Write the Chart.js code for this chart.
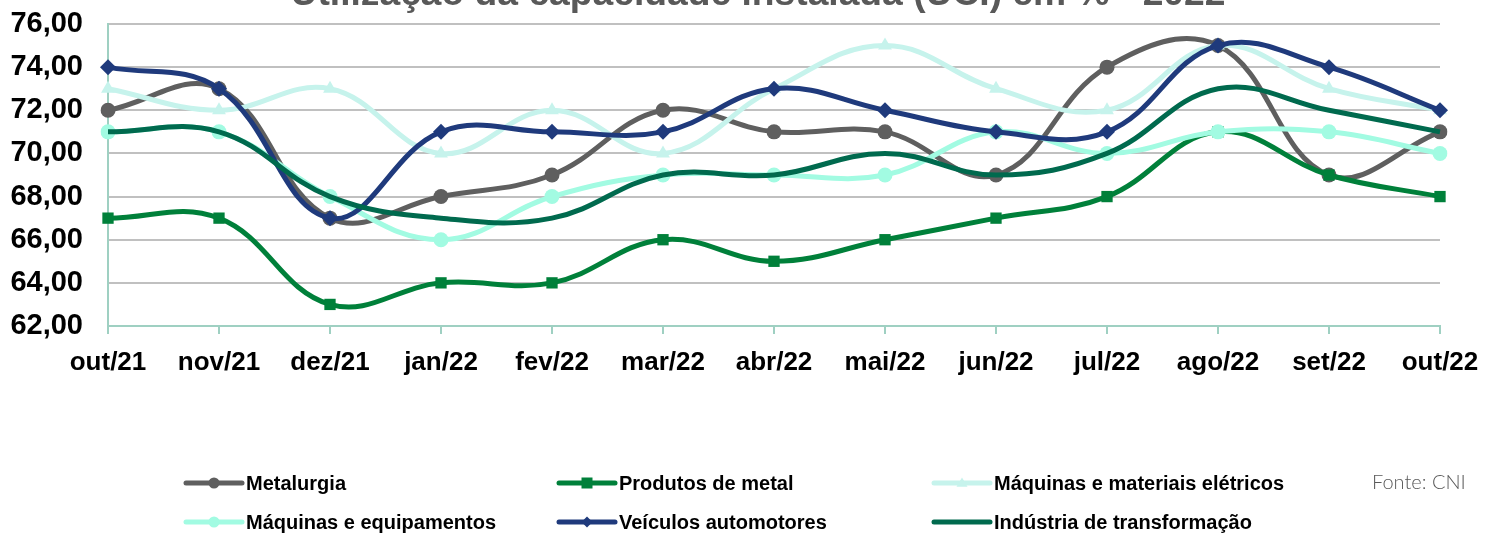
<!DOCTYPE html>
<html>
<head>
<meta charset="utf-8">
<script src="https://cdn.jsdelivr.net/npm/chart.js@4.4.1/dist/chart.umd.min.js"></script>
<style>
  html, body { margin: 0; padding: 0; background: #fff; }
  #wrap { width: 1500px; height: 536px; position: relative; }
</style>
</head>
<body>
<div id="wrap"><canvas id="uciChart" width="1500" height="536"></canvas></div>
<script>
const months = ['out/21', 'nov/21', 'dez/21', 'jan/22', 'fev/22', 'mar/22', 'abr/22', 'mai/22', 'jun/22', 'jul/22', 'ago/22', 'set/22', 'out/22'];

const metalurgia = [72, 73, 67, 68, 69, 72, 71, 71, 69, 74, 75, 69, 71];
const produtosMetal = [67, 67, 63, 64, 64, 66, 65, 66, 67, 68, 71, 69, 68];
const maqEletricos = [73, 72, 73, 70, 72, 70, 73, 75, 73, 72, 75, 73, 72];
const maqEquipamentos = [71, 71, 68, 66, 68, 69, 69, 69, 71, 70, 71, 71, 70];
const veiculos = [74, 73, 67, 71, 71, 71, 73, 72, 71, 71, 75, 74, 72];
const industria = [71, 71, 68, 67, 67, 69, 69, 70, 69, 70, 73, 72, 71];

const yTicks = [62, 64, 66, 68, 70, 72, 74, 76];

const chartTitle = 'Utilização da capacidade instalada (UCI) em % - 2022';
const sourceNote = 'Fonte: CNI';

const series = [
  { label: 'Metalurgia', data: metalurgia, color: '#5f5f5f', style: 'circle', r: 7.5 },
  { label: 'Produtos de metal', data: produtosMetal, color: '#00803a', style: 'rect', r: 8 },
  { label: 'Máquinas e materiais elétricos', data: maqEletricos, color: '#c6f3ec', style: 'triangle', r: 8 },
  { label: 'Máquinas e equipamentos', data: maqEquipamentos, color: '#a2fbe2', style: 'circle', r: 7.5 },
  { label: 'Veículos automotores', data: veiculos, color: '#1f3a7c', style: 'rectRot', r: 8 },
  { label: 'Indústria de transformação', data: industria, color: '#006a4e', style: false, r: 0 }
];

// legend slots: [x of line start, y]
const legendPos = [[186, 483], [559, 483], [934, 483], [186, 522], [559, 522], [934, 522]];

function drawMarker(ctx, style, x, y, r, color) {
  if (!style) return;
  ctx.save();
  ctx.fillStyle = color;
  ctx.beginPath();
  if (style === 'circle') {
    ctx.arc(x, y, r, 0, Math.PI * 2);
  } else if (style === 'rect') {
    ctx.rect(x - r, y - r, r * 2, r * 2);
  } else if (style === 'rectRot') {
    ctx.moveTo(x, y - r); ctx.lineTo(x + r, y); ctx.lineTo(x, y + r); ctx.lineTo(x - r, y);
    ctx.closePath();
  } else if (style === 'triangle') {
    ctx.moveTo(x, y - r); ctx.lineTo(x + r, y + r * 0.7); ctx.lineTo(x - r, y + r * 0.7);
    ctx.closePath();
  }
  ctx.fill();
  ctx.restore();
}

const extras = {
  id: 'extras',
  afterDraw(chart) {
    const ctx = chart.ctx;
    ctx.save();
    // title, cut at the top
    let size = 28;
    ctx.font = 'bold ' + size + 'px "Liberation Sans", Arial, sans-serif';
    const w = ctx.measureText(chartTitle).width;
    size = size * 935 / w;
    ctx.font = 'bold ' + size + 'px "Liberation Sans", Arial, sans-serif';
    ctx.fillStyle = '#595959';
    ctx.textAlign = 'center';
    ctx.textBaseline = 'alphabetic';
    ctx.fillText(chartTitle, 758, 5);

    // legend
    ctx.textAlign = 'left';
    ctx.textBaseline = 'middle';
    ctx.font = 'bold 20px "Liberation Sans", Arial, sans-serif';
    series.forEach((s, i) => {
      const [lx, ly] = legendPos[i];
      ctx.strokeStyle = s.color;
      ctx.lineWidth = 5;
      ctx.lineCap = 'round';
      ctx.beginPath();
      ctx.moveTo(lx, ly);
      ctx.lineTo(lx + 56, ly);
      ctx.stroke();
      drawMarker(ctx, s.style, lx + 28, ly, 5.5, s.color);
      ctx.fillStyle = '#000';
      ctx.fillText(s.label, lx + 60, ly + 1);
    });

    ctx.font = '300 20px "Lato", "Open Sans", sans-serif';
    ctx.fillStyle = '#595959';
    ctx.fillText(sourceNote, 1372, 483);
    ctx.restore();
  }
};

const ctx = document.getElementById('uciChart');

new Chart(ctx, {
  type: 'line',
  data: {
    labels: months,
    datasets: series.map((s, i) => ({
      label: s.label,
      data: s.data,
      borderColor: s.color,
      backgroundColor: s.color,
      borderWidth: 5,
      pointStyle: s.style,
      pointRadius: s.r,
      pointBorderWidth: 0,
      pointHoverRadius: s.r,
      tension: 0.4,
      order: series.length - i
    }))
  },
  options: {
    responsive: false,
    animation: false,
    layout: { padding: { top: 24, right: 60, left: 0, bottom: 0 } },
    plugins: {
      legend: { display: false },
      tooltip: { enabled: false }
    },
    scales: {
      x: {
        offset: false,
        grid: {
          drawOnChartArea: false,
          drawTicks: true,
          tickLength: 8,
          color: '#9fd0c2',
          lineWidth: 2
        },
        border: { color: '#9fd0c2', width: 2 },
        ticks: {
          color: '#000',
          font: { family: '"Liberation Sans", Arial, sans-serif', size: 26, weight: 'bold' },
          padding: 13,
          maxRotation: 0,
          autoSkip: false
        },
        afterFit(scale) {
          scale.height = 210;
          scale.paddingLeft = 0;
          scale.paddingRight = 0;
        }
      },
      y: {
        min: 62,
        max: 76,
        afterBuildTicks(scale) { scale.ticks = yTicks.map(v => ({ value: v })); },
        grid: { color: '#c0c0c0', lineWidth: 2, drawTicks: false },
        border: { color: '#9fd0c2', width: 2 },
        ticks: {
          color: '#000',
          padding: 25,
          font: { family: '"Liberation Sans", Arial, sans-serif', size: 29, weight: 'bold' },
          callback: v => v.toFixed(2).replace('.', ',')
        },
        afterFit(scale) {
          scale.width = 108;
          scale.paddingTop = 0;
          scale.paddingBottom = 0;
        }
      }
    }
  },
  plugins: [extras]
});
</script>
</body>
</html>
